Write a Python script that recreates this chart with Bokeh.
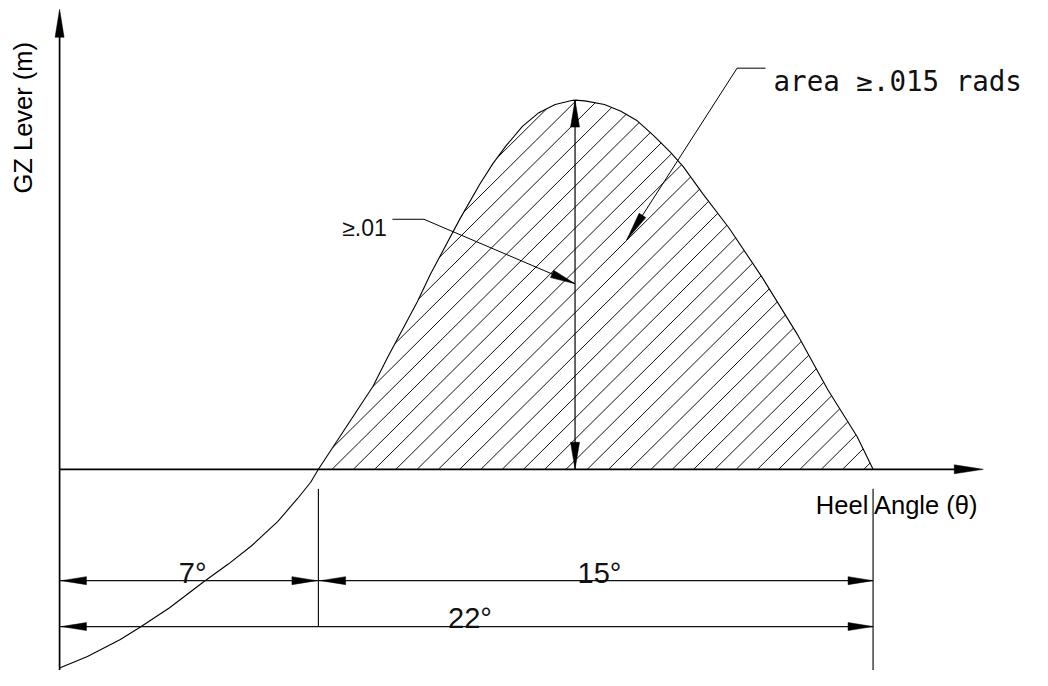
import numpy as np
from bokeh.plotting import figure
from bokeh.models import Range1d
from bokeh.core.properties import value
from bokeh.embed import file_html
from bokeh.resources import INLINE

# ---------------- data ----------------
heel_deg = [0.0, 0.754, 1.643, 2.176, 2.975, 3.907, 4.573, 5.193, 5.904, 6.437, 6.791,
            7.0, 8.477, 8.876, 9.675, 10.032, 10.831, 11.363, 11.718, 12.072, 12.517,
            12.961, 13.403, 13.848, 13.94, 14.203, 14.736, 15.180, 15.624, 16.067,
            16.511, 16.866, 17.398, 18.109, 19.0, 19.973, 20.772, 21.571, 22.0]
gz_lever = [-0.538, -0.507, -0.461, -0.428, -0.375, -0.304, -0.256, -0.207, -0.141,
            -0.079, -0.035, 0.0, 0.225, 0.304, 0.454, 0.529, 0.679, 0.772, 0.828,
            0.876, 0.929, 0.966, 0.988, 0.999, 1.0, 0.998, 0.988, 0.970, 0.944, 0.904,
            0.860, 0.820, 0.746, 0.653, 0.520, 0.362, 0.216, 0.088, 0.0]
angle_vanish = 7.0      # GZ becomes positive
angle_end = 22.0        # range end
dim_labels = ["7°", "15°", "22°"]
y_label = "GZ Lever (m)"
x_label = "Heel Angle (θ)"
max_label = "≥.01"
area_label = "area ≥.015 rads"

# ---------------- layout scale ----------------
W, H = 1032, 670
RX, RY = 37.55, 378.0     # reference px per degree / per GZ unit
x0, x1 = -60 / RX, (1048 - 60) / RX
y0, y1 = (480 - 686) / RY, 480 / RY
SXp = W / (x1 - x0)        # plot px per degree
SYp = H / (y1 - y0)        # plot px per GZ unit


def sx(X):
    return (X - 60) / RX


def sy(Y):
    return (480 - Y) / RY


p = figure(width=W, height=H, x_range=Range1d(x0, x1), y_range=Range1d(y0, y1),
           output_backend="svg", toolbar_location=None, x_axis_type=None,
           y_axis_type=None, min_border=0, min_border_left=0, min_border_right=0,
           min_border_top=0, min_border_bottom=0)
p.grid.visible = False
p.outline_line_color = None
p.background_fill_color = "white"

heads_x, heads_y = [], []


def head(xt, yt, ux, uy, L=25, Wd=8):
    n = np.hypot(ux, uy)
    ux, uy = ux / n, uy / n
    bx, by = -ux * L, -uy * L
    pts = [(0, 0), (bx - uy * Wd / 2, by + ux * Wd / 2), (bx + uy * Wd / 2, by - ux * Wd / 2)]
    heads_x.append([xt + q[0] / SXp for q in pts])
    heads_y.append([yt + q[1] / SYp for q in pts])


hx = np.array(heel_deg)
hy = np.array(gz_lever)

# ---------------- hatch (45° lines clipped to positive area) ----------------
m = RX / RY
d = 21.6 / RX
a0 = sx(336.7)
xs = np.linspace(angle_vanish, angle_end, 6001)
f = np.interp(xs, hx, hy)
hatch_x, hatch_y = [], []
for k in range(-60, 60):
    a = a0 + k * d
    yl = (xs - a) * m
    inside = (yl >= 0) & (yl <= f)
    if not inside.any():
        continue
    idx = np.flatnonzero(np.diff(np.concatenate([[0], inside.astype(int), [0]])))
    for s, e in zip(idx[::2], idx[1::2]):
        if e - s < 2:
            continue
        hatch_x.append([xs[s], xs[e - 1]])
        hatch_y.append([yl[s], yl[e - 1]])
p.multi_line(hatch_x, hatch_y, line_color="#111111", line_width=1.0)

# ---------------- curve ----------------
p.line(hx, hy, line_color="black", line_width=1.1)

# ---------------- axes ----------------
p.line([0, 0], [y0, sy(20)], line_color="black", line_width=1.7)
head(0, sy(9), 0, 1, L=28, Wd=9)
p.line([0, sx(990)], [0, 0], line_color="black", line_width=1.7)
head(sx(998), 0, 1, 0, L=29, Wd=9)

# ---------------- peak dimension ----------------
ipk = int(np.argmax(hy))
xpk, ypk = hx[ipk], hy[ipk]
p.line([xpk, xpk], [0, ypk], line_color="black", line_width=1.2)
head(xpk, ypk, 0, 1, L=27, Wd=9)
head(xpk, 0, 0, -1, L=27, Wd=9)

# ---------------- range dimensions ----------------
DIM1, DIM2, EXT = sy(594), sy(641), sy(500)
p.multi_line([[0, angle_end], [0, angle_end], [angle_vanish, angle_vanish], [angle_end, angle_end]],
             [[DIM1, DIM1], [DIM2, DIM2], [EXT, DIM2], [EXT, y0]],
             line_color="#111111", line_width=1.2)
head(0.05, DIM1, -1, 0)
head(angle_vanish - 0.04, DIM1, 1, 0)
head(angle_vanish + 0.06, DIM1, -1, 0)
head(angle_end, DIM1, 1, 0)
head(0.05, DIM2, -1, 0)
head(angle_end, DIM2, 1, 0)

p.text([angle_vanish / 2 + 0.1, (angle_vanish + angle_end) / 2 + 0.1], [DIM1, DIM1],
       text=dim_labels[:2], text_font=value("Liberation Sans"), text_font_size="29px",
       text_color="#111111", text_align="center", text_baseline="alphabetic", y_offset=-8)
p.text([angle_end / 2 + 0.1], [DIM2], text=[dim_labels[2]],
       text_font=value("Liberation Sans"), text_font_size="29px", text_color="#111111",
       text_align="center", text_baseline="alphabetic", y_offset=-9)

# ---------------- leaders ----------------
lx1, ly1 = sx(430), sy(224)
p.line([sx(398), lx1, xpk], [ly1, ly1, sy(290)], line_color="black", line_width=1.0)
head(xpk, sy(290), (xpk - lx1) * SXp, (sy(290) - ly1) * SYp, L=25, Wd=8)
p.text([sx(347)], [sy(233)], text=[max_label], text_font=value("Liberation Sans"),
       text_font_size="23px", text_color="#111111", text_align="left",
       text_baseline="alphabetic")

ax1, ay1 = sx(748), sy(69.3)
tipx, tipy = sx(636), sy(245)
p.line([sx(777), ax1, tipx], [ay1, ay1, tipy], line_color="black", line_width=1.0)
head(tipx, tipy, (tipx - ax1) * SXp, (tipy - ay1) * SYp, L=29, Wd=8)
p.text([sx(785)], [sy(82)], text=[area_label], text_font=value("DejaVu Sans Mono"),
       text_font_size="27.5px", text_color="#111111", text_align="left",
       text_baseline="alphabetic")

# ---------------- arrow heads ----------------
p.patches(heads_x, heads_y, fill_color="black", line_color="black", line_width=0.5)

# ---------------- axis labels ----------------
p.text([sx(23)], [sy(120)], text=[y_label], angle=np.pi / 2, text_font=value("Liberation Sans"),
       text_font_size="25.5px", text_color="black", text_align="center", text_baseline="middle")
p.text([sx(828)], [sy(517)], text=[x_label], text_font=value("Liberation Sans"),
       text_font_size="25.5px", text_color="black", text_align="left", text_baseline="alphabetic")

open("out.html", "w").write(file_html(p, INLINE))
